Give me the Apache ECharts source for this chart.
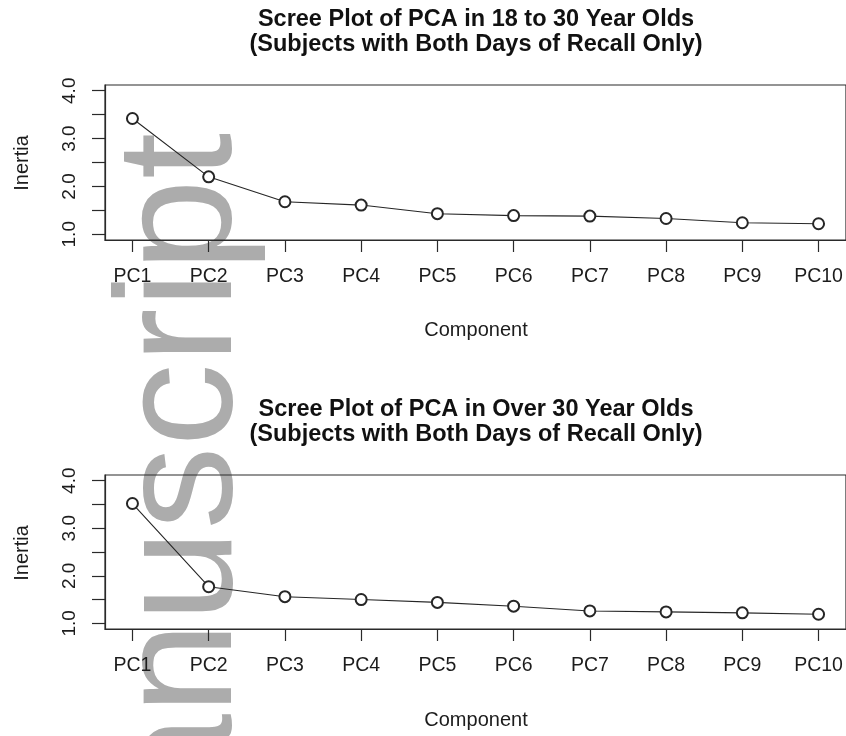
<!DOCTYPE html>
<html>
<head>
<meta charset="utf-8">
<script src="https://cdn.jsdelivr.net/npm/echarts@6/dist/echarts.min.js"></script>
<style>
  html, body { margin: 0; padding: 0; background: #ffffff; }
  #chart { width: 846px; height: 736px; }
</style>
</head>
<body>
<div id="chart"></div>
<script>
// Principal components on the x axis
const categories = ['PC1', 'PC2', 'PC3', 'PC4', 'PC5', 'PC6', 'PC7', 'PC8', 'PC9', 'PC10'];
// Inertia per component, 18 to 30 year olds
const inertiaYoung = [3.42, 2.20, 1.68, 1.61, 1.43, 1.39, 1.38, 1.33, 1.24, 1.22];
// Inertia per component, over 30 year olds
const inertiaOlder = [3.52, 1.77, 1.56, 1.50, 1.44, 1.36, 1.26, 1.24, 1.22, 1.19];
// Y axis tick marks and the subset that carries labels
const yTickValues = [1, 1.5, 2, 2.5, 3, 3.5, 4];
const yLabelValues = [1, 2, 3, 4];
// Panel titles
const panelTitles = [
  'Scree Plot of PCA in 18 to 30 Year Olds\n(Subjects with Both Days of Recall Only)',
  'Scree Plot of PCA in Over 30 Year Olds\n(Subjects with Both Days of Recall Only)'
];
const xAxisTitle = 'Component';
const yAxisTitle = 'Inertia';

const FONT = '"Liberation Sans", Arial, Helvetica, sans-serif';
const INK = '#1c1c1c';
const xPositions = categories.map((c, i) => i + 1);

const chart = echarts.init(document.getElementById('chart'), null, { renderer: 'canvas' });

const panels = [
  { top: 85, height: 155, values: inertiaYoung, title: panelTitles[0] },
  { top: 475, height: 154, values: inertiaOlder, title: panelTitles[1] }
];

const grids = panels.map(p => ({
  left: 105, top: p.top, width: 742, height: p.height,
  show: true, borderColor: '#2a2a2a', borderWidth: 1.2, backgroundColor: 'transparent'
}));

const xAxes = panels.map((p, k) => ({
  type: 'value', gridIndex: k, min: 0.64, max: 10.36,
  splitLine: { show: false },
  axisLine: { show: true, lineStyle: { color: '#2a2a2a', width: 1.2 } },
  axisTick: { show: true, customValues: xPositions, length: 12, lineStyle: { color: '#2a2a2a', width: 1.2 } },
  axisLabel: {
    customValues: xPositions, margin: 27, fontFamily: FONT, fontSize: 19.5, color: INK,
    formatter: v => categories[Math.round(v) - 1]
  }
}));

const yAxes = panels.map((p, k) => ({
  type: 'value', gridIndex: k, min: 0.88, max: 4.12,
  splitLine: { show: false },
  axisLine: { show: true, lineStyle: { color: '#2a2a2a', width: 1.2 } },
  axisTick: { show: true, customValues: yTickValues, length: 13, lineStyle: { color: '#2a2a2a', width: 1.2 } },
  axisLabel: {
    customValues: yLabelValues, rotate: 90, margin: 26, fontFamily: FONT, fontSize: 19, color: INK,
    formatter: v => v.toFixed(1)
  }
}));

const series = panels.map((p, k) => ({
  type: 'line', xAxisIndex: k, yAxisIndex: k,
  data: categories.map((c, i) => [i + 1, p.values[i]]),
  symbol: 'emptyCircle', symbolSize: 11,
  lineStyle: { color: '#262626', width: 1.1 },
  itemStyle: { color: '#262626', borderColor: '#262626', borderWidth: 1.1 },
  emphasis: { disabled: true },
  z: 3
}));

const texts = [];
// faint vertical word set behind the plots
texts.push({
  type: 'text', x: 185, y: 133, rotation: Math.PI / 2, z: -10, silent: true,
  style: { text: 'manuscript', font: '166px ' + FONT, fill: '#acacac', textAlign: 'right', textVerticalAlign: 'middle' }
});
panels.forEach((p, k) => {
  texts.push({
    type: 'text', x: 476, y: p.top - 77.5, z: 5,
    style: { text: p.title, font: 'bold 23.5px ' + FONT, fill: '#111111', textAlign: 'center', textVerticalAlign: 'top', lineHeight: 25 }
  });
  texts.push({
    type: 'text', x: 476, y: p.top + 245, z: 5,
    style: { text: xAxisTitle, font: '20px ' + FONT, fill: INK, textAlign: 'center', textVerticalAlign: 'middle' }
  });
  texts.push({
    type: 'text', x: 22, y: p.top + 78, rotation: Math.PI / 2, z: 5,
    style: { text: yAxisTitle, font: '20px ' + FONT, fill: INK, textAlign: 'center', textVerticalAlign: 'middle' }
  });
});

chart.setOption({
  animation: false,
  backgroundColor: '#ffffff',
  grid: grids,
  xAxis: xAxes,
  yAxis: yAxes,
  series: series,
  graphic: { elements: texts }
});
</script>
</body>
</html>
